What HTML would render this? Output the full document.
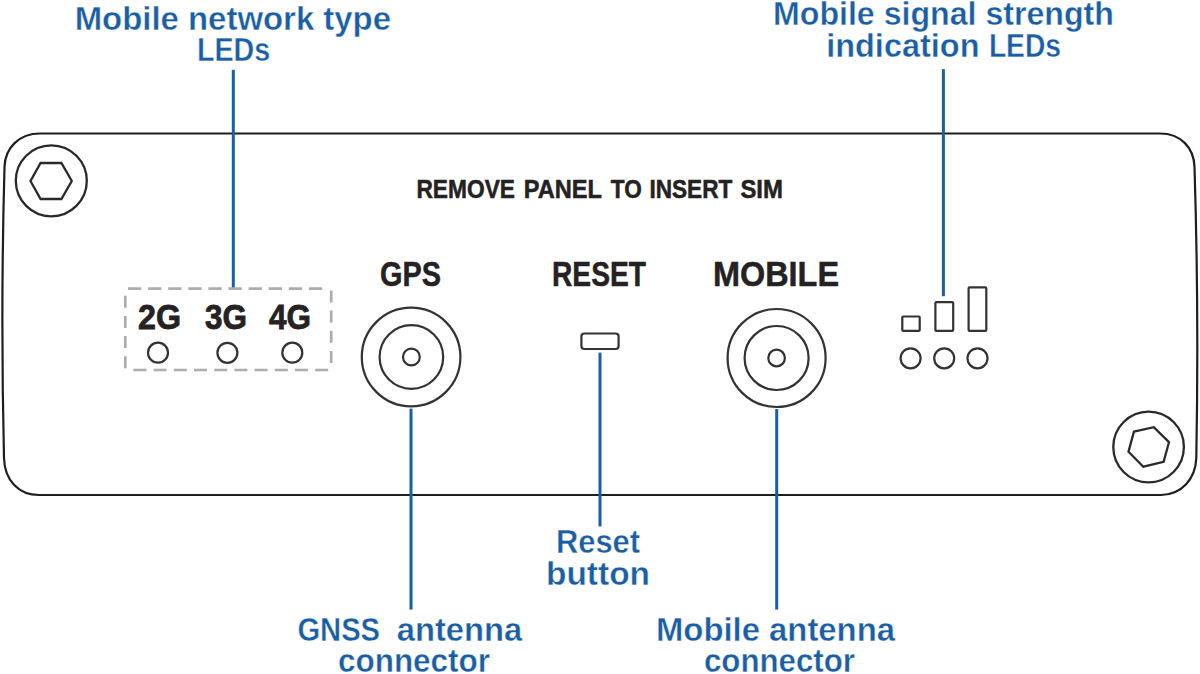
<!DOCTYPE html>
<html><head><meta charset="utf-8">
<style>
html,body{margin:0;padding:0;background:#fff;width:1200px;height:674px;overflow:hidden}
svg{display:block}
text{font-family:"Liberation Sans",sans-serif;font-weight:bold}
.b{fill:#1a5ea5;stroke:#fff;stroke-width:0.4}
.d{fill:#252223;stroke:#252223;stroke-width:0.5}
</style></head><body>
<svg width="1200" height="674" viewBox="0 0 1200 674">
<!-- panel -->
<path d="M40,133.5 H1160 C1181,133.5 1194,148 1194.5,167 Q1199,311 1196.3,458 C1195.5,479.5 1181,495 1161,495 H39 C19,495 4.5,480.5 4,458 Q0.5,311 4.5,167 C5,148 19,133.5 40,133.5 Z" fill="none" stroke="#1e1e1e" stroke-width="2.2"/>
<!-- screws -->
<circle cx="51.3" cy="180.8" r="35.5" fill="none" stroke="#2a2a2a" stroke-width="2.3"/>
<polygon points="71.8,181 61.4,163 40.6,163 30.5,181 40.6,199 61.4,199" fill="none" stroke="#2a2a2a" stroke-width="2.3"/>
<circle cx="1148.6" cy="447" r="35.3" fill="none" stroke="#2a2a2a" stroke-width="2.3"/>
<polygon points="1133.9,431.6 1153.8,427.2 1169,442.2 1163.6,461.8 1143.3,466.7 1128.5,451.7" fill="none" stroke="#2a2a2a" stroke-width="2.3"/>

<!-- blue leader lines -->
<g stroke="#1a5ea5" stroke-width="3">
<line x1="233.3" y1="69.8" x2="233.3" y2="288"/>
<line x1="943.4" y1="69.2" x2="943.4" y2="296.2"/>
<line x1="411" y1="408.6" x2="411" y2="609.6"/>
<line x1="600" y1="352.6" x2="600" y2="526.5"/>
<line x1="776.7" y1="409" x2="776.7" y2="609.6"/>
</g>

<!-- dashed box -->
<g stroke="#adadad" stroke-width="2.7" fill="none">
<line x1="128" y1="288.6" x2="322.5" y2="288.6" stroke-dasharray="13.3 6.8"/>
<line x1="133.4" y1="370" x2="329" y2="370" stroke-dasharray="13 7.2"/>
<line x1="125.3" y1="295.7" x2="125.3" y2="370" stroke-dasharray="12 8.2"/>
<line x1="331.2" y1="290.4" x2="331.2" y2="365" stroke-dasharray="12 8.2"/>
</g>

<!-- LED circles -->
<g fill="none" stroke="#333" stroke-width="2.2">
<circle cx="158" cy="352.7" r="10"/>
<circle cx="227.4" cy="352.8" r="10"/>
<circle cx="292.3" cy="352.7" r="10"/>
<circle cx="910.6" cy="358.3" r="10"/>
<circle cx="944.2" cy="358.3" r="10"/>
<circle cx="977.5" cy="358.3" r="10"/>
<rect x="902.3" y="316.5" width="17.4" height="14.4" rx="1"/>
<rect x="935.4" y="302.2" width="17.8" height="28.7" rx="1"/>
<rect x="968.6" y="287.3" width="17.7" height="43.6" rx="1"/>
<rect x="581.4" y="333.5" width="37.2" height="15.5" rx="3"/>
<!-- connectors -->
<circle cx="411.1" cy="357" r="49.3"/>
<circle cx="411.4" cy="357" r="31.8"/>
<circle cx="411.4" cy="357" r="8.4"/>
<circle cx="776.6" cy="358" r="49"/>
<circle cx="776.6" cy="358" r="32"/>
<circle cx="776.6" cy="358" r="8.3"/>
</g>

<!-- texts -->
<text class="b" x="74.7" y="29.6" font-size="33.5" textLength="316.3" lengthAdjust="spacingAndGlyphs">Mobile network type</text>
<text class="b" x="197.0" y="61.2" font-size="33.5" textLength="73.2" lengthAdjust="spacingAndGlyphs">LEDs</text>
<text class="b" x="773.0" y="24.9" font-size="33.5" textLength="340.9" lengthAdjust="spacingAndGlyphs">Mobile signal strength</text>
<text class="b" x="826.2" y="57.1" font-size="33.5" textLength="153.3" lengthAdjust="spacingAndGlyphs">indication</text>
<text class="b" x="988.9" y="57.1" font-size="33.5" textLength="72.1" lengthAdjust="spacingAndGlyphs">LEDs</text>
<text class="d" x="416.4" y="197.9" font-size="25" textLength="98.6" lengthAdjust="spacingAndGlyphs">REMOVE</text>
<text class="d" x="523.8" y="197.9" font-size="25" textLength="78.2" lengthAdjust="spacingAndGlyphs">PANEL</text>
<text class="d" x="610.8" y="197.9" font-size="25" textLength="31.0" lengthAdjust="spacingAndGlyphs">TO</text>
<text class="d" x="649.4" y="197.9" font-size="25" textLength="83.0" lengthAdjust="spacingAndGlyphs">INSERT</text>
<text class="d" x="740.4" y="197.9" font-size="25" textLength="42.6" lengthAdjust="spacingAndGlyphs">SIM</text>
<text class="d" x="380.0" y="286.0" font-size="35" textLength="61.0" lengthAdjust="spacingAndGlyphs">GPS</text>
<text class="d" x="552.0" y="286.0" font-size="35" textLength="94.0" lengthAdjust="spacingAndGlyphs">RESET</text>
<text class="d" x="713.0" y="286.2" font-size="35" textLength="126.0" lengthAdjust="spacingAndGlyphs">MOBILE</text>
<text class="d" x="138.0" y="329.3" font-size="35.5" textLength="43.0" lengthAdjust="spacingAndGlyphs" style="stroke-width:0.8">2G</text>
<text class="d" x="205.0" y="329.3" font-size="35.5" textLength="42.0" lengthAdjust="spacingAndGlyphs" style="stroke-width:0.8">3G</text>
<text class="d" x="269.0" y="329.3" font-size="35.5" textLength="42.0" lengthAdjust="spacingAndGlyphs" style="stroke-width:0.8">4G</text>
<text class="b" x="556.0" y="552.9" font-size="33.5" textLength="84.0" lengthAdjust="spacingAndGlyphs">Reset</text>
<text class="b" x="546.0" y="584.7" font-size="33.5" textLength="104.0" lengthAdjust="spacingAndGlyphs">button</text>
<text class="b" x="297.4" y="640.9" font-size="33.5" textLength="82.7" lengthAdjust="spacingAndGlyphs">GNSS</text>
<text class="b" x="396.7" y="640.9" font-size="33.5" textLength="125.5" lengthAdjust="spacingAndGlyphs">antenna</text>
<text class="b" x="338.0" y="672.2" font-size="33.5" textLength="152.0" lengthAdjust="spacingAndGlyphs">connector</text>
<text class="b" x="656.0" y="641.0" font-size="33.5" textLength="239.0" lengthAdjust="spacingAndGlyphs">Mobile antenna</text>
<text class="b" x="704.0" y="672.2" font-size="33.5" textLength="151.0" lengthAdjust="spacingAndGlyphs">connector</text>
</svg>
</body></html>
